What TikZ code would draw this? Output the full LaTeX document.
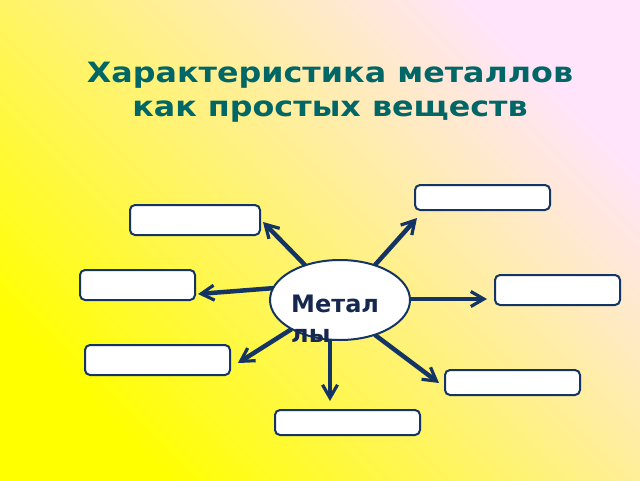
\documentclass[tikz,border=0pt]{standalone}
\usepackage{fontspec}
\setmainfont{DejaVu Sans}
\newfontfamily\titlefont[FakeStretch=1.135]{DejaVu Sans Bold}
\usetikzlibrary{arrows.meta,shapes.geometric,calc}
\definecolor{navy}{RGB}{20,52,100}
\definecolor{txtnavy}{RGB}{22,40,80}
\definecolor{teal}{RGB}{0,102,102}
\definecolor{bgyellow}{RGB}{255,255,0}
\definecolor{bgmid}{RGB}{255,241,150}
\definecolor{bgpink}{RGB}{255,228,252}
\tikzset{
  blank/.style={draw=navy, line width=2pt, fill=white, rounded corners=5pt,
    rectangle, inner sep=0pt},
  spoke/.style={draw=navy, line width=4.5pt,
    -{Straight Barb[length=13pt,width=15pt,line width=3.2pt]}},
}
\begin{document}
\begin{tikzpicture}[x=1pt,y=-1pt]
\shade[shading=axis, bottom color=bgyellow, middle color=bgmid, top color=bgpink, shading angle=-45]
  (0,0) rectangle (640,480);
\useasboundingbox (0,0) rectangle (640,480);

\node[align=center, anchor=north, inner sep=0pt, text=teal,
  font=\titlefont\fontsize{28}{34}\selectfont] (title) at (330,62)
  {Характеристика металлов\\как простых веществ};

\node[blank, minimum width=130pt, minimum height=30pt] (tl) at (195,220) {};
\node[blank, minimum width=115pt, minimum height=30pt] (lm) at (137.5,285) {};
\node[blank, minimum width=145pt, minimum height=30pt] (lb) at (157.5,360) {};
\node[blank, minimum width=135pt, minimum height=25pt] (tr) at (482.5,197.5) {};
\node[blank, minimum width=125pt, minimum height=30pt] (rm) at (557.5,290) {};
\node[blank, minimum width=135pt, minimum height=25pt] (rb) at (512.5,382.5) {};
\node[blank, minimum width=145pt, minimum height=25pt] (bt) at (347.5,422.5) {};

\node[ellipse, minimum width=140pt, minimum height=80pt, inner sep=0pt] (ell) at (340,300) {};

\coordinate (tltip) at ($(tl.east)+(2,2)$);
\coordinate (trtip) at ($(tr.south west)+(3,7)$);
\coordinate (lmtip) at ($(lm.east)+(2,9)$);
\coordinate (rmtip) at ($(rm.west)+(-7,9)$);
\coordinate (lbtip) at ($(lb.east)+(7,3)$);
\coordinate (rbtip) at ($(rb.west)+(-5,0.5)$);
\coordinate (bttip) at ($(bt.north)+(-17.5,-8)$);

\draw[spoke] (ell.135) -- (tltip);
\draw[spoke] (ell.45) -- (trtip);
\draw[spoke] (ell.170) -- (lmtip);
\draw[spoke] (ell.east |- rmtip) -- (rmtip);
\draw[spoke] (ell.211) -- (lbtip);
\draw[spoke] (ell.-45) -- (rbtip);
\draw[spoke] (bttip |- ell.south) -- (bttip);

\node[ellipse, draw=navy, line width=2pt, fill=white, minimum width=140pt,
  minimum height=80pt, inner sep=0pt] (ellb) at (ell) {};

\node[align=left, anchor=north west, inner sep=0pt, text=txtnavy,
  font=\fontsize{24}{30}\selectfont\bfseries] (lbl) at (291,294.5)
  {Метал\\лы};
\end{tikzpicture}
\end{document}
